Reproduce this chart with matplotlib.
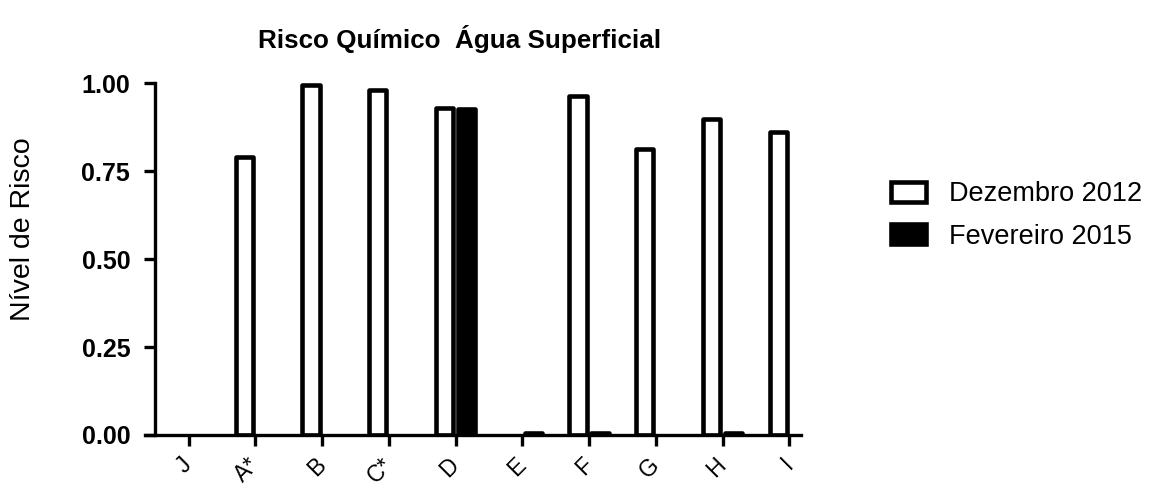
import numpy as np
import matplotlib.pyplot as plt

plt.rcParams['font.family'] = ['Liberation Sans', 'DejaVu Sans']

# Risk level per sampling point
pontos = ['J', 'A*', 'B', 'C*', 'D', 'E', 'F', 'G', 'H', 'I']
dez2012 = [0.0, 0.79, 0.994, 0.98, 0.929, 0.0, 0.963, 0.813, 0.898, 0.86]
fev2015 = [0.0, 0.0, 0.0, 0.0, 0.925, 0.005, 0.005, 0.0, 0.005, 0.0]

x = np.arange(len(pontos))
dez = np.array(dez2012)
fev = np.array(fev2015)
# zero values are not drawn
dez = np.where(dez > 0, dez, np.nan)
fev = np.where(fev > 0, fev, np.nan)

fig = plt.figure(figsize=(11.52, 4.86), dpi=100)
ax = fig.add_axes([0.126, 0.105, 0.569, 0.724])

w = 0.26
ax.bar(x - 0.165, dez, w, color='white', edgecolor='black', linewidth=3.3,
       joinstyle='round', label='Dezembro 2012', zorder=2)
ax.bar(x + 0.165, fev, w, color='black', edgecolor='black', linewidth=3.3,
       joinstyle='round', label='Fevereiro 2015', zorder=2)

ax.set_xlim(-0.65, 9.17)
ax.set_ylim(0, 1.0)
ax.spines['left'].set_position(('data', -0.5))
ax.spines['top'].set_visible(False)
ax.spines['right'].set_visible(False)
for s in ['left', 'bottom']:
    ax.spines[s].set_linewidth(2.4)
    ax.spines[s].set_zorder(3)

ax.set_yticks([0, 0.25, 0.5, 0.75, 1.0])
ax.set_yticklabels(['0.00', '0.25', '0.50', '0.75', '1.00'],
                   fontsize=18, fontweight='bold')
ax.set_xticks(x)
ax.set_xticklabels(pontos, rotation=45, ha='right', va='center',
                   rotation_mode='anchor', fontsize=16.5)
ax.tick_params(axis='both', direction='out', width=2.4, length=8)
ax.tick_params(axis='x', pad=11)
ax.tick_params(axis='y', pad=10)

ax.set_ylabel('Nível de Risco', fontsize=20.5)
ax.yaxis.set_label_coords(-0.167, 0.585)
ax.set_title('Risco Químico  Água Superficial', fontsize=18.7,
             fontweight='bold', pad=25, x=0.48)

leg = ax.legend(loc='upper left', bbox_to_anchor=(1.1, 0.79), frameon=False,
                fontsize=19.5, handlelength=1.3, handleheight=0.75,
                handletextpad=0.85, labelspacing=0.6)

fig.savefig('out.png', dpi=100)
